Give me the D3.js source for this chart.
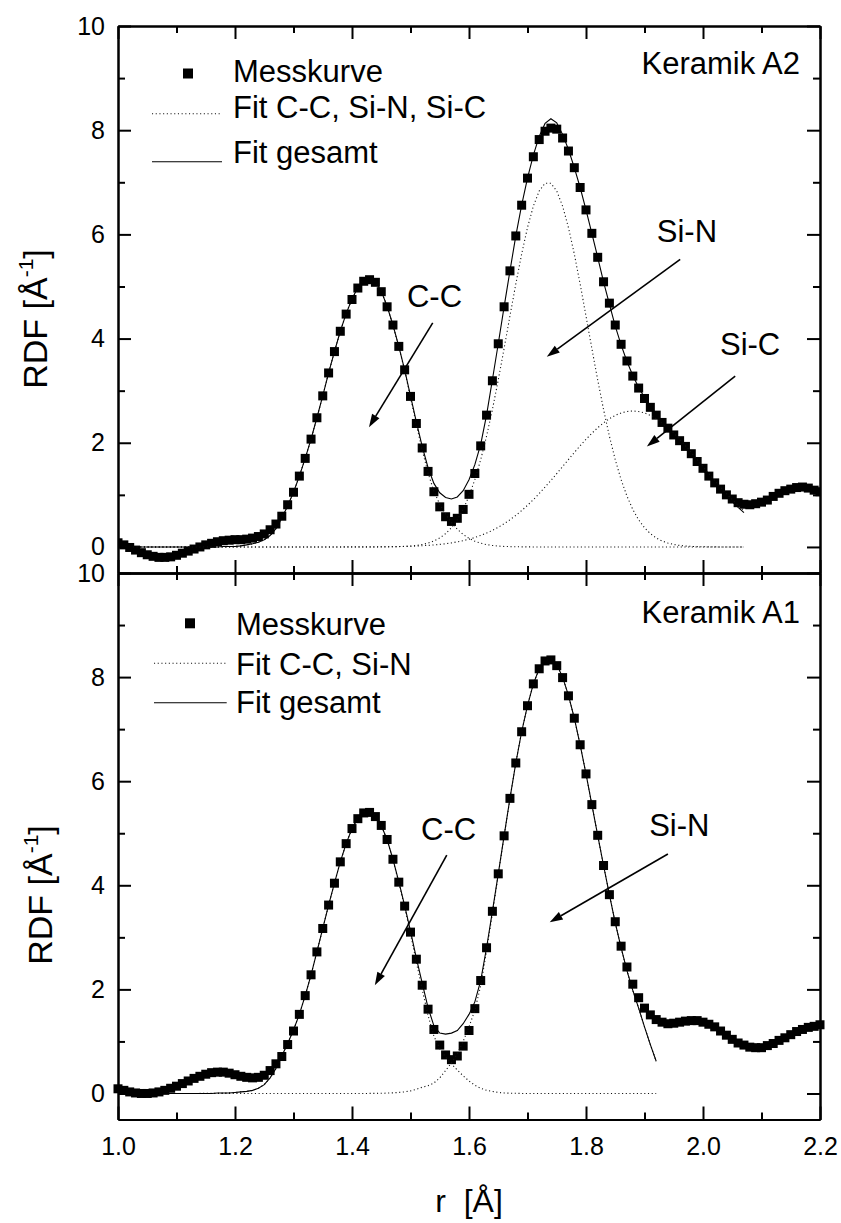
<!DOCTYPE html>
<html>
<head>
<meta charset="utf-8">
<script src="https://cdn.jsdelivr.net/npm/d3@7"></script>
<style>
  html, body { margin: 0; padding: 0; background: #fff; }
  svg text { font-family: "Liberation Sans", Arial, Helvetica, sans-serif; fill: #000; }
</style>
</head>
<body>
<svg id="chart" width="841" height="1223"></svg>
<script>
// ---------------- data ----------------
// radial distribution function, sampled every 0.01 Å starting at 1.00 Å
const rStart = 1.00;
const rStep = 0.01;

// Keramik A2: measured curve 1.00 .. 2.20 Å
const a2Measured = [
  0.08, 0.04, -0.01, -0.06, -0.11, -0.15, -0.18, -0.20, -0.20, -0.19,
  -0.16, -0.12, -0.08, -0.04, 0.00, 0.04, 0.07, 0.10, 0.12, 0.13,
  0.14, 0.14, 0.15, 0.17, 0.20, 0.25, 0.33, 0.44, 0.59, 0.81,
  1.05, 1.36, 1.70, 2.07, 2.48, 2.90, 3.34, 3.75, 4.14, 4.47,
  4.75, 4.97, 5.10, 5.13, 5.08, 4.90, 4.61, 4.26, 3.85, 3.40,
  2.89, 2.37, 1.90, 1.45, 1.06, 0.77, 0.58, 0.49, 0.55, 0.72,
  1.01, 1.41, 1.94, 2.53, 3.19, 3.90, 4.61, 5.30, 5.97, 6.56,
  7.08, 7.49, 7.82, 7.98, 8.04, 8.02, 7.85, 7.60, 7.28, 6.90,
  6.47, 6.02, 5.56, 5.09, 4.68, 4.26, 3.89, 3.57, 3.28, 3.05,
  2.85, 2.68, 2.53, 2.39, 2.28, 2.15, 2.04, 1.93, 1.79, 1.64,
  1.51, 1.36, 1.23, 1.11, 1.00, 0.92, 0.85, 0.82, 0.81, 0.83,
  0.86, 0.90, 0.97, 1.03, 1.08, 1.11, 1.14, 1.15, 1.13, 1.09,
  1.06
];

// Keramik A2: fit components 1.00 .. 2.07 Å
const a2FitCC = [
  0, 0, 0, 0, 0, 0, 0, 0, 0, 0,
  0, 0, 0, 0, 0, 0.001, 0.001, 0.003, 0.005, 0.008,
  0.014, 0.023, 0.038, 0.06, 0.09, 0.14, 0.22, 0.35, 0.55, 0.79,
  1.05, 1.36, 1.70, 2.07, 2.48, 2.90, 3.34, 3.75, 4.14, 4.48,
  4.76, 4.98, 5.13, 5.16, 5.09, 4.91, 4.62, 4.25, 3.84, 3.39,
  2.87, 2.35, 1.86, 1.42, 1.07, 0.82, 0.63, 0.47, 0.34, 0.24,
  0.165, 0.11, 0.072, 0.045, 0.028, 0.017, 0.010, 0.006, 0.003, 0.002,
  0.001, 0, 0, 0, 0, 0, 0, 0, 0, 0,
  0, 0, 0, 0, 0, 0, 0, 0, 0, 0,
  0, 0, 0, 0, 0, 0, 0, 0, 0, 0,
  0, 0, 0, 0, 0, 0, 0, 0
];
const a2FitSiN = [
  0, 0, 0, 0, 0, 0, 0, 0, 0, 0,
  0, 0, 0, 0, 0, 0, 0, 0, 0, 0,
  0, 0, 0, 0, 0, 0, 0, 0, 0, 0,
  0, 0, 0, 0, 0, 0, 0, 0, 0, 0,
  0, 0, 0, 0, 0, 0.001, 0.002, 0.004, 0.006, 0.011,
  0.018, 0.029, 0.047, 0.074, 0.115, 0.173, 0.255, 0.369, 0.521, 0.720,
  0.976, 1.292, 1.675, 2.125, 2.638, 3.205, 3.810, 4.433, 5.047, 5.623,
  6.131, 6.542, 6.832, 6.981, 6.981, 6.832, 6.542, 6.131, 5.623, 5.047,
  4.433, 3.810, 3.205, 2.638, 2.125, 1.675, 1.292, 0.976, 0.720, 0.521,
  0.369, 0.255, 0.173, 0.115, 0.074, 0.047, 0.029, 0.018, 0.011, 0.006,
  0.004, 0.002, 0.001, 0, 0, 0, 0, 0
];
const a2FitSiC = [
  0, 0, 0, 0, 0, 0, 0, 0, 0, 0,
  0, 0, 0, 0, 0, 0, 0, 0, 0, 0,
  0, 0, 0, 0, 0, 0, 0, 0, 0, 0,
  0, 0, 0, 0, 0, 0, 0, 0, 0, 0.001,
  0.001, 0.001, 0.001, 0.002, 0.002, 0.003, 0.004, 0.006, 0.008, 0.010,
  0.013, 0.018, 0.023, 0.030, 0.038, 0.049, 0.062, 0.078, 0.098, 0.121,
  0.149, 0.182, 0.221, 0.266, 0.318, 0.378, 0.446, 0.521, 0.606, 0.698,
  0.799, 0.908, 1.025, 1.148, 1.276, 1.408, 1.543, 1.678, 1.812, 1.942,
  2.066, 2.182, 2.288, 2.382, 2.462, 2.526, 2.572, 2.600, 2.610, 2.600,
  2.572, 2.526, 2.462, 2.382, 2.288, 2.182, 2.066, 1.942, 1.812, 1.678,
  1.543, 1.408, 1.276, 1.148, 1.025, 0.908, 0.799, 0.698
];
const a2FitTotal = [
  0, 0, 0, 0, 0, 0, 0, 0, 0, 0,
  0, 0, 0, 0, 0, 0, 0, 0, 0.01, 0.01,
  0.01, 0.02, 0.04, 0.06, 0.09, 0.14, 0.22, 0.35, 0.55, 0.79,
  1.05, 1.36, 1.70, 2.07, 2.48, 2.90, 3.34, 3.75, 4.14, 4.48,
  4.76, 4.98, 5.13, 5.16, 5.09, 4.91, 4.62, 4.26, 3.85, 3.40,
  2.90, 2.40, 1.93, 1.52, 1.22, 1.04, 0.95, 0.92, 0.96, 1.08,
  1.29, 1.58, 1.97, 2.53, 3.21, 3.90, 4.61, 5.30, 5.97, 6.56,
  7.08, 7.52, 7.88, 8.13, 8.22, 8.14, 7.92, 7.63, 7.28, 6.90,
  6.47, 6.02, 5.56, 5.09, 4.66, 4.24, 3.88, 3.56, 3.29, 3.06,
  2.87, 2.70, 2.55, 2.41, 2.28, 2.15, 2.03, 1.90, 1.76, 1.62,
  1.48, 1.34, 1.21, 1.09, 0.97, 0.87, 0.76, 0.66
];

// Keramik A1: measured curve 1.00 .. 2.20 Å
const a1Measured = [
  0.09, 0.06, 0.03, 0.01, 0.00, 0.00, 0.01, 0.03, 0.06, 0.10,
  0.14, 0.19, 0.24, 0.29, 0.33, 0.37, 0.40, 0.41, 0.41, 0.39,
  0.36, 0.33, 0.31, 0.30, 0.31, 0.35, 0.44, 0.57, 0.71, 0.94,
  1.20, 1.52, 1.88, 2.28, 2.72, 3.17, 3.62, 4.04, 4.45, 4.80,
  5.09, 5.28, 5.39, 5.40, 5.32, 5.15, 4.88, 4.50, 4.06, 3.60,
  3.10, 2.58, 2.08, 1.62, 1.23, 0.93, 0.74, 0.65, 0.72, 0.91,
  1.21, 1.63, 2.17, 2.80, 3.50, 4.22, 4.95, 5.67, 6.35, 6.95,
  7.45, 7.87, 8.16, 8.31, 8.33, 8.22, 7.99, 7.64, 7.21, 6.70,
  6.14, 5.55, 4.96, 4.38, 3.82, 3.30, 2.83, 2.43, 2.10, 1.84,
  1.64, 1.51, 1.42, 1.37, 1.34, 1.35, 1.37, 1.39, 1.40, 1.40,
  1.37, 1.33, 1.28, 1.20, 1.12, 1.04, 0.97, 0.93, 0.89, 0.88,
  0.88, 0.92, 0.96, 1.02, 1.07, 1.13, 1.19, 1.23, 1.27, 1.29,
  1.32
];

// Keramik A1: fit components 1.00 .. 1.92 Å
const a1FitCC = [
  0, 0, 0, 0, 0, 0, 0, 0, 0, 0,
  0, 0, 0, 0, 0.001, 0.002, 0.003, 0.005, 0.008, 0.014,
  0.02, 0.03, 0.04, 0.06, 0.10, 0.17, 0.30, 0.48, 0.72, 0.96,
  1.22, 1.52, 1.88, 2.28, 2.72, 3.17, 3.62, 4.04, 4.45, 4.80,
  5.09, 5.29, 5.40, 5.42, 5.33, 5.15, 4.87, 4.49, 4.05, 3.58,
  3.07, 2.52, 2.00, 1.50, 1.10, 0.86, 0.70, 0.57, 0.45, 0.34,
  0.24, 0.16, 0.10, 0.06, 0.04, 0.02, 0.01, 0.005, 0.003, 0.001,
  0, 0, 0, 0, 0, 0, 0, 0, 0, 0,
  0, 0, 0, 0, 0, 0, 0, 0, 0, 0,
  0, 0, 0
];
const a1FitSiN = [
  0, 0, 0, 0, 0, 0, 0, 0, 0, 0,
  0, 0, 0, 0, 0, 0, 0, 0, 0, 0,
  0, 0, 0, 0, 0, 0, 0, 0, 0, 0,
  0, 0, 0, 0, 0, 0, 0, 0, 0, 0,
  0, 0, 0, 0.001, 0.002, 0.004, 0.007, 0.012, 0.02, 0.03,
  0.05, 0.08, 0.12, 0.15, 0.20, 0.30, 0.44, 0.59, 0.76, 1.00,
  1.28, 1.60, 2.07, 2.74, 3.46, 4.20, 4.94, 5.66, 6.35, 6.95,
  7.45, 7.87, 8.16, 8.32, 8.35, 8.24, 8.00, 7.65, 7.21, 6.70,
  6.14, 5.55, 4.96, 4.38, 3.82, 3.28, 2.80, 2.36, 1.98, 1.64,
  1.28, 0.94, 0.62
];
const a1FitTotal = [
  0, 0, 0, 0, 0, 0, 0, 0, 0, 0,
  0, 0, 0, 0, 0, 0, 0, 0.01, 0.01, 0.01,
  0.02, 0.03, 0.04, 0.06, 0.10, 0.17, 0.30, 0.48, 0.72, 0.96,
  1.22, 1.52, 1.88, 2.28, 2.72, 3.17, 3.62, 4.04, 4.45, 4.80,
  5.09, 5.29, 5.40, 5.42, 5.33, 5.15, 4.88, 4.50, 4.07, 3.61,
  3.12, 2.60, 2.12, 1.65, 1.30, 1.16, 1.14, 1.16, 1.21, 1.34,
  1.52, 1.76, 2.17, 2.80, 3.50, 4.22, 4.95, 5.67, 6.35, 6.95,
  7.45, 7.87, 8.16, 8.32, 8.35, 8.24, 8.00, 7.65, 7.21, 6.70,
  6.14, 5.55, 4.96, 4.38, 3.82, 3.28, 2.80, 2.36, 1.98, 1.64,
  1.28, 0.94, 0.62
];

// axis ticks
const xTickMajor = [1.0, 1.2, 1.4, 1.6, 1.8, 2.0, 2.2];
const xTickMinor = [1.1, 1.3, 1.5, 1.7, 1.9, 2.1];
const xTickLabels = ["1.0", "1.2", "1.4", "1.6", "1.8", "2.0", "2.2"];
const yTickMajor = [0, 2, 4, 6, 8, 10];
const yTickMinor = [1, 3, 5, 7, 9];
const yTickLabels = ["0", "2", "4", "6", "8", "10"];

// ---------------- layout ----------------
const plotLeft = 118, plotRight = 820;
const panelTops = [26, 573];
const panelBottoms = [573, 1119.5];
const labelFont = "31px";

const svg = d3.select("#chart");
const x = d3.scaleLinear().domain([1.0, 2.2]).range([plotLeft, plotRight]);

const grid = n => d3.range(n).map(i => +(rStart + i * rStep).toFixed(2));
const toPoints = vals => grid(vals.length).map((r, i) => ({ r, v: vals[i] }));

const panels = [
  {
    name: "Keramik A2",
    top: panelTops[0], bottom: panelBottoms[0],
    measured: a2Measured,
    components: [a2FitCC, a2FitSiN, a2FitSiC],
    total: a2FitTotal,
    clipMarkers: true,
    legendLabels: ["Messkurve", "Fit C-C, Si-N, Si-C", "Fit gesamt"],
    legend: { markerX: 188, markerY: 47.5, textX: 233, base: [56, 92, 137], lineX: [152, 222], lineY: [87.8, 135.7] },
    titleX: 46.5, titleY: 319,
    labelRight: 800, labelBase: 48,
    notes: [
      { text: "C-C", at: [1.494, 4.61], from: [1.538, 4.30], to: [1.429, 2.30] },
      { text: "Si-N", at: [1.921, 5.85], from: [1.961, 5.52], to: [1.733, 3.65] },
      { text: "Si-C", at: [2.029, 3.69], from: [2.055, 3.28], to: [1.904, 1.93] }
    ]
  },
  {
    name: "Keramik A1",
    top: panelTops[1], bottom: panelBottoms[1],
    measured: a1Measured,
    components: [a1FitCC, a1FitSiN],
    total: a1FitTotal,
    clipMarkers: false,
    legendLabels: ["Messkurve", "Fit C-C, Si-N", "Fit gesamt"],
    legend: { markerX: 190, markerY: 50.3, textX: 236, base: [62, 102, 140], lineX: [154, 226.7], lineY: [90.3, 129.7] },
    titleX: 52, titleY: 895,
    labelRight: 800, labelBase: 50,
    notes: [
      { text: "C-C", at: [1.518, 4.87], from: [1.562, 4.58], to: [1.439, 2.08] },
      { text: "Si-N", at: [1.908, 4.95], from: [1.940, 4.60], to: [1.738, 3.29] }
    ]
  }
];

const defs = svg.append("defs");

function drawArrow(g, x1, y1, x2, y2) {
  const ang = Math.atan2(y2 - y1, x2 - x1);
  const len = 13, half = 4.3;
  const bx = x2 - len * Math.cos(ang), by = y2 - len * Math.sin(ang);
  g.append("line")
    .attr("x1", x1).attr("y1", y1).attr("x2", bx).attr("y2", by)
    .attr("stroke", "#000").attr("stroke-width", 1.6);
  g.append("polygon")
    .attr("points", [
      [x2, y2],
      [bx + half * Math.sin(ang), by - half * Math.cos(ang)],
      [bx - half * Math.sin(ang), by + half * Math.cos(ang)]
    ].map(p => p.join(",")).join(" "))
    .attr("fill", "#000");
}

panels.forEach((p, idx) => {
  const y = d3.scaleLinear().domain([-0.5, 10]).range([p.bottom, p.top]);
  const g = svg.append("g");

  // clip region for this panel
  const clipId = "clip" + idx;
  defs.append("clipPath").attr("id", clipId)
    .append("rect").attr("x", plotLeft).attr("y", p.top)
    .attr("width", plotRight - plotLeft).attr("height", p.bottom - p.top);

  // measured points
  const pts = toPoints(p.measured);
  const mg = g.append("g");
  if (p.clipMarkers) mg.attr("clip-path", `url(#${clipId})`);
  const ms = 9;
  mg.selectAll("rect").data(pts).join("rect")
    .attr("x", d => x(d.r) - ms / 2)
    .attr("y", d => y(d.v) - ms / 2)
    .attr("width", ms).attr("height", ms)
    .attr("fill", "#000");

  const line = d3.line().x(d => x(d.r)).y(d => y(d.v));

  // fitted components (dotted)
  p.components.forEach(c => {
    g.append("path").datum(toPoints(c))
      .attr("d", line).attr("fill", "none")
      .attr("stroke", "#111").attr("stroke-width", 1.1)
      .attr("stroke-dasharray", "1.1,2.6");
  });
  // total fit (solid)
  g.append("path").datum(toPoints(p.total))
    .attr("d", line).attr("fill", "none")
    .attr("stroke", "#000").attr("stroke-width", 1.1);

  // axes: inward ticks on all four sides
  const axStyle = sel => {
    sel.select(".domain").attr("stroke-width", 2);
    sel.selectAll(".tick line").attr("stroke-width", 2);
  };
  const sides = [
    { gen: d3.axisBottom, scale: x, pos: `translate(0,${p.top})`, major: xTickMajor, minor: xTickMinor },
    { gen: d3.axisTop, scale: x, pos: `translate(0,${p.bottom})`, major: xTickMajor, minor: xTickMinor },
    { gen: d3.axisRight, scale: y, pos: `translate(${plotLeft},0)`, major: yTickMajor, minor: yTickMinor },
    { gen: d3.axisLeft, scale: y, pos: `translate(${plotRight},0)`, major: yTickMajor, minor: yTickMinor }
  ];
  sides.forEach(s => {
    g.append("g").attr("transform", s.pos)
      .call(s.gen(s.scale).tickValues(s.major).tickSize(13).tickSizeOuter(0).tickFormat(""))
      .call(axStyle);
    g.append("g").attr("transform", s.pos)
      .call(s.gen(s.scale).tickValues(s.minor).tickSize(7).tickSizeOuter(0).tickFormat(""))
      .call(axStyle);
  });

  // y tick labels
  const yl = g.append("g").attr("transform", `translate(${plotLeft},0)`)
    .call(d3.axisLeft(y).tickValues(yTickMajor).tickSize(0).tickPadding(13)
      .tickFormat((d, i) => yTickLabels[i]));
  yl.select(".domain").remove();
  yl.attr("font-family", null).attr("font-size", null);
  yl.selectAll("text").style("font-size", "25px").attr("fill", "#000");

  // y axis title
  const yt = g.append("text")
    .attr("transform", `translate(${p.titleX},${p.titleY}) rotate(-90)`)
    .attr("text-anchor", "middle")
    .style("font-size", "34px");
  yt.append("tspan").text("RDF [Å");
  yt.append("tspan").attr("dy", -14).style("font-size", "21px").text("-1");
  yt.append("tspan").attr("dy", 14).text("]");

  // legend
  const L = p.legend;
  g.append("rect")
    .attr("x", L.markerX - 5).attr("y", p.top + L.markerY - 5)
    .attr("width", 10).attr("height", 10).attr("fill", "#000");
  g.append("line")
    .attr("x1", L.lineX[0]).attr("x2", L.lineX[1])
    .attr("y1", p.top + L.lineY[0]).attr("y2", p.top + L.lineY[0])
    .attr("stroke", "#111").attr("stroke-width", 1.1).attr("stroke-dasharray", "1.1,2.6");
  g.append("line")
    .attr("x1", L.lineX[0]).attr("x2", L.lineX[1])
    .attr("y1", p.top + L.lineY[1]).attr("y2", p.top + L.lineY[1])
    .attr("stroke", "#000").attr("stroke-width", 1.1);
  p.legendLabels.forEach((t, i) => {
    g.append("text").attr("x", L.textX).attr("y", p.top + L.base[i])
      .style("font-size", labelFont).text(t);
  });

  // sample name
  g.append("text").attr("x", p.labelRight).attr("y", p.top + p.labelBase)
    .attr("text-anchor", "end").style("font-size", labelFont).text(p.name);

  // peak annotations
  p.notes.forEach(n => {
    g.append("text").attr("x", x(n.at[0])).attr("y", y(n.at[1]))
      .style("font-size", labelFont).text(n.text);
    drawArrow(g, x(n.from[0]), y(n.from[1]), x(n.to[0]), y(n.to[1]));
  });
});

// x tick labels under the lower panel
const xl = svg.append("g").attr("transform", `translate(0,${panelBottoms[1]})`)
  .call(d3.axisBottom(x).tickValues(xTickMajor).tickSize(0).tickPadding(17.5)
    .tickFormat((d, i) => xTickLabels[i]));
xl.select(".domain").remove();
xl.attr("font-family", null).attr("font-size", null);
xl.selectAll("text").style("font-size", "25px").attr("fill", "#000");

// x axis title
svg.append("text")
  .attr("x", (plotLeft + plotRight) / 2).attr("y", 1212)
  .attr("text-anchor", "middle")
  .style("font-size", "32px").style("white-space", "pre")
  .text("r  [Å]");
</script>
</body>
</html>
